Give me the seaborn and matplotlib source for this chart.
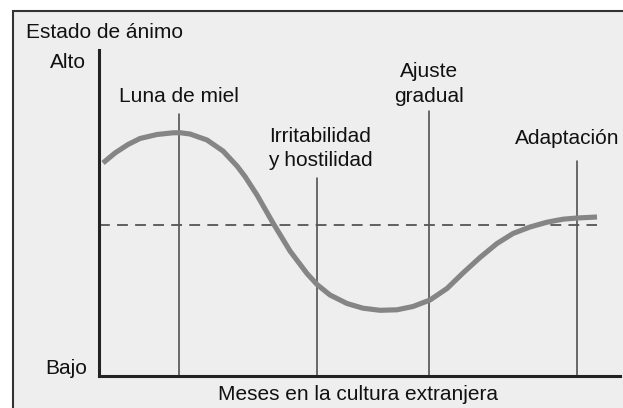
import numpy as np
import pandas as pd
import matplotlib
matplotlib.use("Agg")
import matplotlib.pyplot as plt
from matplotlib.patches import Rectangle
import seaborn as sns

# curve (x = months, y = mood, arbitrary units)
meses = [0.4, 1.6, 2.9, 4.1, 5.8, 7.4, 8.1, 9.1, 10.8, 12.4, 13.8, 14.6, 15.8,
         17.4, 19.1, 20.8, 21.8, 23.1, 24.8, 26.4, 28.1, 29.8, 31.4, 33.1,
         34.8, 36.4, 38.1, 39.8, 41.4, 43.1, 44.8, 46.4, 47.8, 49.8]
animo = [21.3, 22.3, 23.15, 23.75, 24.15, 24.32, 24.33, 24.2, 23.6, 22.5, 21.0,
         19.95, 18.1, 15.3, 12.5, 10.25, 9.15, 8.1, 7.25, 6.78, 6.57, 6.62, 6.95,
         7.6, 8.75, 10.3, 11.85, 13.25, 14.25, 14.9, 15.38, 15.68, 15.8, 15.9]

etapas = ["Luna de miel", "Irritabilidad\ny hostilidad", "Ajuste\ngradual", "Adaptación"]
etapa_x = [8.0, 21.8, 33.0, 47.8]
etapa_top = [26.2, 19.8, 26.5, 21.5]
etapa_label_x = [8.0, 22.1, 33.0, 46.8]
etapa_label_y = [28.0, 22.75, 29.2, 23.7]

nivel_base = 15.1

df = pd.DataFrame({"meses": meses, "animo": animo})

sns.set_theme(style="white")
plt.rcParams['font.family'] = ['Liberation Sans', 'DejaVu Sans']

W, H = 623, 408
fig = plt.figure(figsize=(W / 100, H / 100), dpi=100)
fig.patch.set_facecolor("white")

# outer frame (cut off at right and bottom)
fig.patches.append(Rectangle((13 / W, -0.1), 1.2, (H - 11) / H + 0.1,
                             transform=fig.transFigure, facecolor="#eeeeee",
                             edgecolor="#333333", linewidth=1.5, zorder=0))

ax = fig.add_axes([99 / W, (H - 376) / H, (620 - 99) / W, (376 - 50) / H])
ax.set_facecolor("none")
ax.set_zorder(2)

for x, top in zip(etapa_x, etapa_top):
    ax.plot([x, x], [0, top], color="#444444", linewidth=1.1, zorder=2)

ax.plot([0, 49.8], [nivel_base, nivel_base], color="#555555", linewidth=1.3,
        dashes=(6, 4), zorder=2)

sns.lineplot(data=df, x="meses", y="animo", ax=ax, color="#858585",
             linewidth=3.7, zorder=3, sort=False,
             solid_joinstyle="round", solid_capstyle="butt")

for lab, lx, ly in zip(etapas, etapa_label_x, etapa_label_y):
    ax.text(lx, ly, lab, ha="center", va="center", fontsize=15,
            color="#111111", linespacing=1.4)

ax.set_xlim(0, 52.1)
ax.set_ylim(0, 32.6)
ax.set_xticks([])
ax.set_yticks([])
ax.set_xlabel("")
ax.set_ylabel("")
for s in ["top", "right"]:
    ax.spines[s].set_visible(False)
for s in ["left", "bottom"]:
    ax.spines[s].set_color("#222222")
    ax.spines[s].set_linewidth(2.2)

fig.text(26 / W, 1 - 33 / H, "Estado de ánimo", ha="left", va="center",
         fontsize=15, color="#111111", zorder=3)
fig.text(86 / W, 1 - 62 / H, "Alto", ha="right", va="center", fontsize=15,
         color="#111111", zorder=3)
fig.text(87 / W, 1 - 369 / H, "Bajo", ha="right", va="center", fontsize=15,
         color="#111111", zorder=3)
fig.text(358 / W, 1 - 395 / H, "Meses en la cultura extranjera", ha="center",
         va="center", fontsize=15, color="#111111", zorder=3)

fig.savefig("out.png", dpi=100)
